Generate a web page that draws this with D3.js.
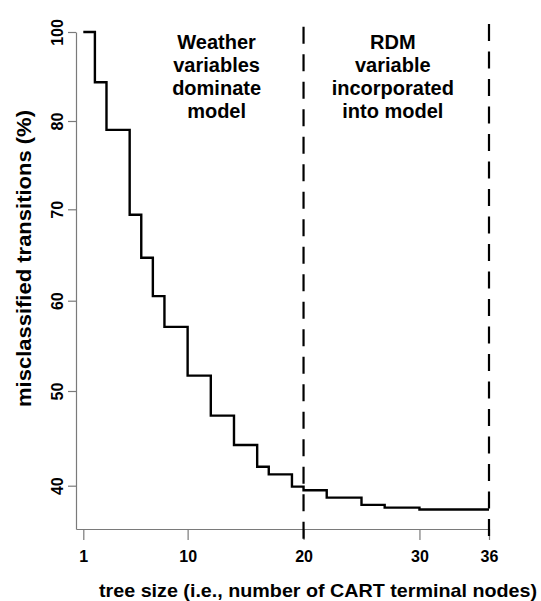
<!DOCTYPE html>
<html>
<head>
<meta charset="utf-8">
<script src="https://cdn.jsdelivr.net/npm/d3@7"></script>
<style>
  body { margin: 0; background: #fff; }
  svg text { font-family: "Liberation Sans", Arial, Helvetica, sans-serif; font-weight: bold; fill: #000; }
  .axis .domain, .axis .tick line { stroke: #7a7a7a; stroke-width: 1.2; }
  .axis text { font-size: 16px; }
  .step { fill: none; stroke: #000; stroke-width: 2.4; }
  .split { stroke: #000; stroke-width: 2.2; stroke-dasharray: 17 10.5; }
  .note { font-size: 20px; }
</style>
</head>
<body>
<svg width="541" height="601"></svg>
<script>
// tree size (number of terminal nodes) where the step changes
const treeSize = [1, 2, 3, 5, 6, 7, 8, 10, 12, 14, 16, 17, 19, 20, 22, 25, 27, 30, 36]
// misclassified transitions (%) read in the units of the printed axis labels
const misclassified = [100, 88.7, 79.0, 69.4, 64.7, 60.5, 57.1, 51.7, 47.4, 44.3, 42.0, 41.2, 39.9, 39.5, 38.7, 37.9, 37.6, 37.4, 37.4]

const xTicks = [1, 10, 20, 30, 36]
const yTicks = [40, 50, 60, 70, 80, 100]
const splits = [20, 36]
const weatherNote = ['Weather', 'variables', 'dominate', 'model']
const rdmNote = ['RDM', 'variable', 'incorporated', 'into model']

const svg = d3.select('svg')
const width = +svg.attr('width')
const height = +svg.attr('height')

const margin = {top: 32, right: 52, bottom: 72, left: 76}
const innerWidth = width - margin.left - margin.right
const innerHeight = height - margin.top - margin.bottom

const data = treeSize.map((t, i) => ({size: t, value: misclassified[i]}))

const xScale = d3.scaleLinear()
    .domain([0.37, 36])
    .range([0, innerWidth])

// printed axis skips 90, so the scale is piecewise between the labelled ticks
const yScale = d3.scaleLinear()
    .domain([35.26].concat(yTicks))
    .range([innerHeight, 453.7, 359, 268.7, 177.3, 89, 0])

const g = svg.append('g')
    .attr('transform', `translate(${margin.left},${margin.top})`)

// x axis, labels pushed down a bit like the original
const xAxisG = g.append('g')
    .attr('class', 'axis')
    .attr('transform', `translate(0,${innerHeight})`)
    .call(d3.axisBottom(xScale).tickValues(xTicks).tickSize(11).tickSizeOuter(0))
xAxisG.selectAll('text').attr('y', 32.5).attr('dy', 0)

// y axis with labels turned parallel to the axis
const yAxisG = g.append('g')
    .attr('class', 'axis')
    .call(d3.axisLeft(yScale).tickValues(yTicks).tickSize(8).tickSizeOuter(0))
yAxisG.selectAll('text')
    .attr('transform', 'rotate(-90)')
    .attr('text-anchor', 'middle')
    .attr('x', 0)
    .attr('y', -13)
    .attr('dy', 0)

// dashed lines splitting the two phases
g.selectAll('.split').data(splits)
  .enter().append('line')
    .attr('class', 'split')
    .attr('x1', d => xScale(d))
    .attr('x2', d => xScale(d))
    .attr('y1', (d, i) => yScale(101.2 + i * 0.6))
    .attr('y2', innerHeight + 15)

const line = d3.line()
    .x(d => xScale(d.size))
    .y(d => yScale(d.value))
    .curve(d3.curveStepAfter)

g.append('path')
    .datum(data)
    .attr('class', 'step')
    .attr('d', line)

// the two notes
const addNote = (lines, cx) => {
    g.append('text')
        .attr('class', 'note')
        .attr('text-anchor', 'middle')
        .selectAll('tspan').data(lines)
        .enter().append('tspan')
            .attr('x', cx)
            .attr('y', (d, i) => 16.5 + i * 23)
            .text(d => d)
}
addNote(weatherNote, xScale(12.5))
addNote(rdmNote, xScale(27.7))

// axis titles
svg.append('text')
    .attr('x', 318)
    .attr('y', 596.5)
    .attr('text-anchor', 'middle')
    .attr('font-size', 19)
    .attr('textLength', 438)
    .attr('lengthAdjust', 'spacingAndGlyphs')
    .text('tree size (i.e., number of CART terminal nodes)')

svg.append('text')
    .attr('transform', 'translate(31,258.5) rotate(-90)')
    .attr('text-anchor', 'middle')
    .attr('font-size', 20)
    .attr('textLength', 297)
    .attr('lengthAdjust', 'spacingAndGlyphs')
    .text('misclassified transitions (%)')
</script>
</body>
</html>
